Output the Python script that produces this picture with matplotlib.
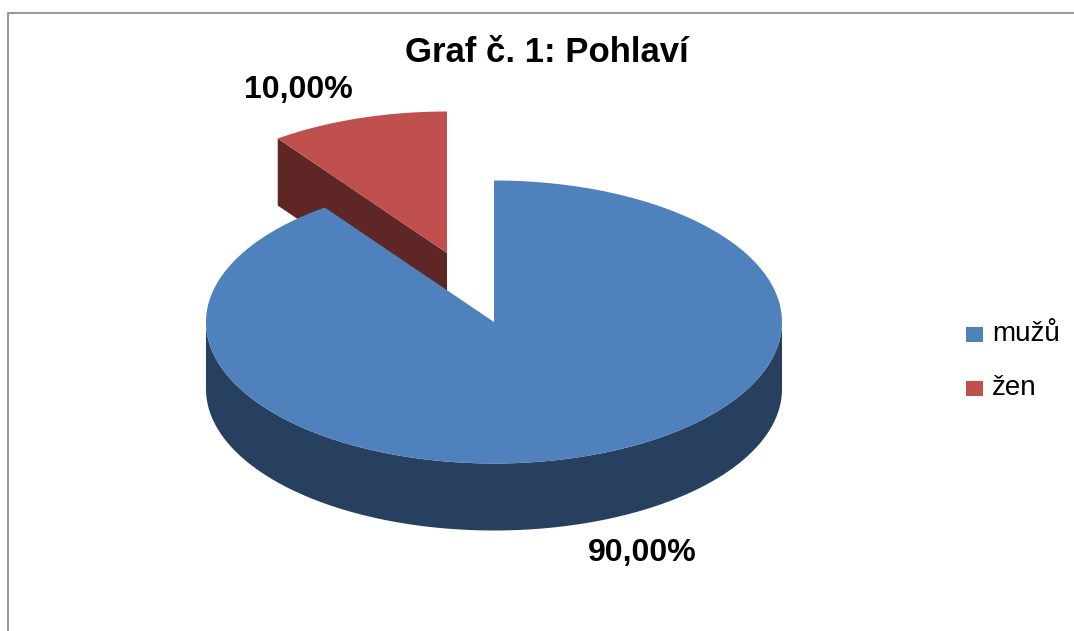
import matplotlib.pyplot as plt
import numpy as np
from matplotlib.patches import Polygon, Rectangle

categories = ['mužů', 'žen']
values = [90.0, 10.0]
labels = ['90,00%', '10,00%']
top_colors = ['#4F81BD', '#C0504D']
side_colors = ['#284060', '#5E2625']

plt.rcParams['font.family'] = ['Liberation Sans', 'DejaVu Sans']

W, H = 1074, 631
fig = plt.figure(figsize=(W / 100, H / 100), dpi=100)
ax = fig.add_axes([0, 0, 1, 1])
ax.set_xlim(0, W)
ax.set_ylim(H, 0)
ax.axis('off')

# pie geometry in pixels (orthographic 3D look)
cx, cy = 494, 322
a, b = 288, 141.5
depth = 67
explode = {1: (-47, -69)}


def rim(t0, t1, ox, oy, dz=0, n=200):
    t = np.radians(np.linspace(t0, t1, n))
    return np.column_stack([cx + ox + a * np.sin(t), cy + oy + dz - b * np.cos(t)])


# angles clockwise from 12 o'clock
fracs = np.array(values) / sum(values)
ends = np.cumsum(fracs) * 360
starts = ends - fracs * 360

# red slice (exploded): radial side wall at start edge, then top
ox, oy = explode[1]
t0, t1 = starts[1], ends[1]
apex = np.array([cx + ox, cy + oy])
edge = rim(t0, t0, ox, oy, n=1)[0]
wall = [apex, edge, edge + [0, depth], apex + [0, depth]]
ax.add_patch(Polygon(wall, closed=True, facecolor=side_colors[1], edgecolor='none'))
top = np.vstack([apex, rim(t0, t1, ox, oy)])
ax.add_patch(Polygon(top, closed=True, facecolor=top_colors[1], edgecolor='none'))

# blue slice: front curved wall then top
t0, t1 = starts[0], ends[0]
lo, hi = max(t0, 90), min(t1, 270)
front = np.vstack([rim(lo, hi, 0, 0), rim(hi, lo, 0, 0, dz=depth)])
ax.add_patch(Polygon(front, closed=True, facecolor=side_colors[0], edgecolor='none'))
top = np.vstack([[cx, cy], rim(t0, t1, 0, 0)])
ax.add_patch(Polygon(top, closed=True, facecolor=top_colors[0], edgecolor='none'))

# data labels
ax.text(642, 553, labels[0], ha='center', va='center', fontsize=23, fontweight='bold')
ax.text(298, 90, labels[1], ha='center', va='center', fontsize=23, fontweight='bold')

# title
ax.text(547, 52, 'Graf č. 1: Pohlaví', ha='center', va='center', fontsize=25, fontweight='bold')

# legend
for i, (name, col) in enumerate(zip(categories, top_colors)):
    y = 334 + i * 54
    ax.add_patch(Rectangle((966, y - 7), 17, 15, facecolor=col, edgecolor='none'))
    ax.text(992, y, name, ha='left', va='center', fontsize=20)

# chart border (top and left visible)
ax.plot([8, 8, W], [H, 13, 13], color='#999999', lw=1.5)

fig.savefig('out.png', dpi=100)
